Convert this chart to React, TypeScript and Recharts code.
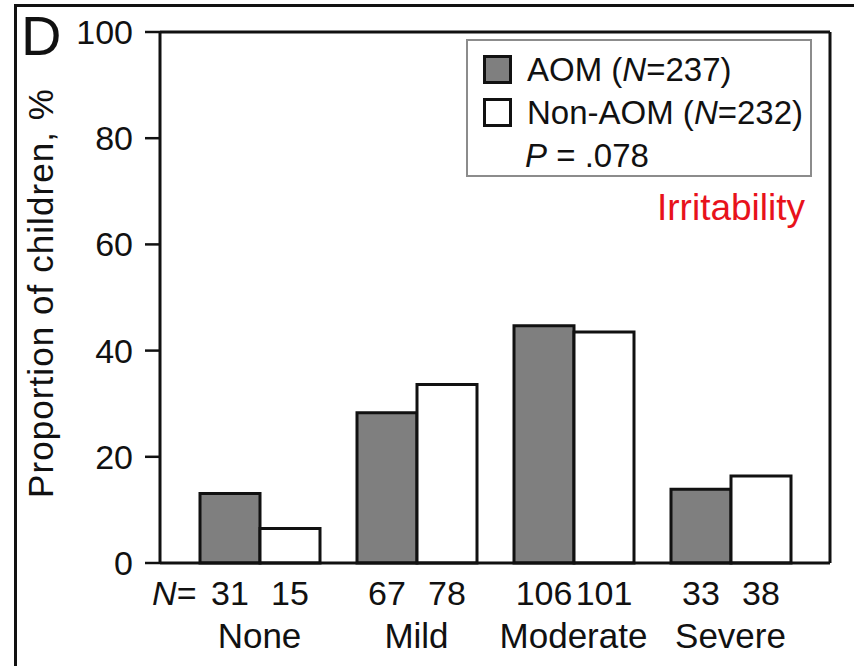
import React from 'react';
import {
  BarChart,
  Bar,
  XAxis,
  YAxis,
  Legend,
  LabelList,
} from 'recharts';

// irritability panel D: proportion of children by severity
const categories = ['None', 'Mild', 'Moderate', 'Severe'];
const aomPct = [13.1, 28.3, 44.7, 13.9];
const nonAomPct = [6.5, 33.6, 43.5, 16.4];
const aomN = [31, 67, 106, 33];
const nonAomN = [15, 78, 101, 38];
const seriesNames = ['AOM', 'Non-AOM'];
const seriesTotals = [237, 232];
const pValue = '.078';
const yTicks = [0, 20, 40, 60, 80, 100];
const panelLetter = 'D';
const panelTitle = 'Irritability';
const yLabel = 'Proportion of children, %';

const FONT = '"Liberation Sans", Arial, Helvetica, sans-serif';
const INK = '#111';

const chartData = categories.map((name, i) => ({
  name,
  aom: aomPct[i],
  nonAom: nonAomPct[i],
  aomN: aomN[i],
  nonAomN: nonAomN[i],
}));

const CategoryTick = (props: any) => {
  const { x, y, payload, index } = props;
  return (
    <g>
      <text x={x} y={y + 85} textAnchor="middle" fontSize={35} fill={INK}>
        {payload.value}
      </text>
      {index === 0 && (
        <text x={x - 63} y={y + 42} textAnchor="end" fontSize={34} fill={INK}>
          <tspan fontStyle="italic">N</tspan>=
        </text>
      )}
    </g>
  );
};

const CountLabel = (props: any) => {
  const { x, y, width, height, value } = props;
  return (
    <text x={x + width / 2} y={y + height + 42} textAnchor="middle" fontSize={34} fill={INK}>
      {value}
    </text>
  );
};

const YTitle = (props: any) => {
  const { viewBox } = props;
  const cy = viewBox.y + viewBox.height / 2 - 4;
  const cx = 53;
  return (
    <text
      x={cx}
      y={cy}
      transform={`rotate(-90 ${cx} ${cy})`}
      textAnchor="middle"
      fontSize={35}
      fill={INK}
      textLength={409}
      lengthAdjust="spacing"
    >
      {yLabel}
    </text>
  );
};

const renderLegend = (props: any) => {
  const { payload } = props;
  return (
    <div
      style={{
        boxSizing: 'border-box',
        width: 346,
        height: 138,
        border: '2px solid #8c8c8c',
        padding: '7px 0 0 15px',
        background: '#fff',
        color: INK,
        fontSize: 33,
      }}
    >
      {payload.map((p: any, i: number) => (
        <div key={p.value} style={{ display: 'flex', alignItems: 'center', height: 43 }}>
          <span
            style={{
              display: 'inline-block',
              boxSizing: 'border-box',
              width: 29,
              height: 29,
              border: `3px solid ${INK}`,
              background: p.color,
              marginRight: 15,
            }}
          />
          <span>
            {p.value} (<i>N</i>={seriesTotals[i]})
          </span>
        </div>
      ))}
      <div style={{ display: 'flex', alignItems: 'center', height: 43, paddingLeft: 42 }}>
        <span>
          <i>P</i> = {pValue}
        </span>
      </div>
    </div>
  );
};

export default function App() {
  return (
    <div
      style={{
        position: 'absolute',
        left: 0,
        top: 0,
        width: 854,
        height: 666,
        background: '#fff',
        fontFamily: FONT,
        overflow: 'hidden',
      }}
    >
      <div style={{ position: 'absolute', left: 14, top: 4, width: 3, height: 662, background: INK }} />
      <div style={{ position: 'absolute', left: 14, top: 4, width: 840, height: 3, background: INK }} />
      <BarChart
        width={854}
        height={666}
        data={chartData}
        margin={{ top: 31, right: 0, bottom: 0, left: 0 }}
        barGap={0}
        barSize={60}
      >
        <XAxis
          dataKey="name"
          height={103}
          padding={{ left: 21, right: 21 }}
          axisLine={{ stroke: INK, strokeWidth: 3 }}
          tickLine={false}
          tickSize={0}
          tickMargin={0}
          interval={0}
          tick={<CategoryTick />}
        />
        <XAxis
          xAxisId="top"
          dataKey="name"
          orientation="top"
          height={1}
          axisLine={{ stroke: INK, strokeWidth: 3 }}
          tickLine={false}
          tick={false}
        />
        <YAxis
          width={160}
          domain={[0, 100]}
          ticks={yTicks}
          interval={0}
          tickSize={15}
          tickMargin={12}
          axisLine={{ stroke: INK, strokeWidth: 3 }}
          tickLine={{ stroke: INK, strokeWidth: 2.5 }}
          tick={{ fill: INK, fontSize: 34 }}
          label={{ content: <YTitle /> }}
        />
        <YAxis
          yAxisId="r"
          orientation="right"
          width={24}
          domain={[0, 100]}
          axisLine={{ stroke: INK, strokeWidth: 3 }}
          tickLine={false}
          tick={false}
        />
        <Legend
          layout="horizontal"
          verticalAlign="middle"
          align="center"
          width={346}
          wrapperStyle={{ top: 39, left: 466, width: 346, height: 138 }}
          content={renderLegend}
        />
        <Bar
          dataKey="aom"
          name={seriesNames[0]}
          fill="#7f7f7f"
          stroke={INK}
          strokeWidth={3}
          isAnimationActive={false}
        >
          <LabelList dataKey="aomN" content={<CountLabel />} />
        </Bar>
        <Bar
          dataKey="nonAom"
          name={seriesNames[1]}
          fill="#ffffff"
          stroke={INK}
          strokeWidth={3}
          isAnimationActive={false}
        >
          <LabelList dataKey="nonAomN" content={<CountLabel />} />
        </Bar>
      </BarChart>
      <div
        style={{
          position: 'absolute',
          left: 21,
          top: 6,
          fontSize: 56,
          lineHeight: '60px',
          color: INK,
        }}
      >
        {panelLetter}
      </div>
      <div
        style={{
          position: 'absolute',
          left: 657,
          top: 186,
          fontSize: 37,
          lineHeight: '44px',
          color: '#e8121b',
        }}
      >
        {panelTitle}
      </div>
    </div>
  );
}
